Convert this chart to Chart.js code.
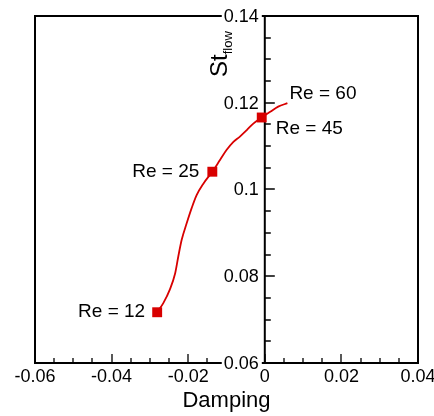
<!DOCTYPE html>
<html>
<head>
<meta charset="utf-8">
<script src="https://cdn.jsdelivr.net/npm/chart.js@4/dist/chart.umd.min.js"></script>
<style>
  html, body { margin: 0; padding: 0; background: #fff; }
  canvas { display: block; }
</style>
</head>
<body>
<canvas id="myChart" width="434" height="416"></canvas>
<script>
// curve St_flow vs damping
const curveX = [-0.0281, -0.0265, -0.0248, -0.0234, -0.0226, -0.0217, -0.0204, -0.0191, -0.0178, -0.0160, -0.0137,
                -0.0117, -0.0100, -0.0082, -0.0065, -0.0047, -0.0030, -0.0008, 0.0014, 0.0035, 0.0059]
const curveY = [0.0717, 0.0738, 0.0769, 0.0807, 0.0845, 0.0884, 0.0922, 0.0957, 0.0987, 0.1014, 0.1041,
                0.1068, 0.1091, 0.1110, 0.1122, 0.1137, 0.1152, 0.1166, 0.1179, 0.1191, 0.1199]

// computed Re cases (square markers)
const reX = [-0.0281, -0.0137, -0.0008]
const reY = [0.0717, 0.1041, 0.1166]
const reNames = ['Re = 12', 'Re = 25', 'Re = 45']
const endName = 'Re = 60'

const xTickValues = [-0.06, -0.04, -0.02, 0, 0.02, 0.04]
const xTickLabels = ['-0.06', '-0.04', '-0.02', '0', '0.02', '0.04']
const yTickValues = [0.06, 0.08, 0.1, 0.12, 0.14]
const yTickLabels = ['0.06', '0.08', '0.1', '0.12', '0.14']
const minorStep = 0.005

const FONT = "'Liberation Sans', Arial, sans-serif"
const RED = '#d80000'

// label placement around the marks: [dx, dy, align]
const labelPlace = [[-12, 0, 'right'], [-13, 0, 'right'], [14, 11, 'left']]
const endPlace = [2, -9, 'left']

const frameAxes = {
    id: 'frameAxes',
    beforeDatasetsDraw(chart) {
        const {ctx, chartArea: a, scales: {x, y}} = chart
        const x0 = x.getPixelForValue(0)
        ctx.save()
        ctx.strokeStyle = '#000'
        ctx.lineWidth = 2
        ctx.strokeRect(a.left, a.top, a.right - a.left, a.bottom - a.top)
        // vertical axis through damping = 0
        ctx.beginPath()
        ctx.moveTo(x0, a.top)
        ctx.lineTo(x0, a.bottom)
        ctx.stroke()

        // ticks
        ctx.lineWidth = 1.3
        ctx.beginPath()
        for (let v = -0.06; v <= 0.04 + 1e-9; v += minorStep) {
            const major = Math.abs(v / 0.02 - Math.round(v / 0.02)) < 1e-6
            const px = Math.round(x.getPixelForValue(v))
            ctx.moveTo(px, a.bottom)
            ctx.lineTo(px, a.bottom - (major ? 9 : 5))
        }
        for (let v = 0.06; v <= 0.14 + 1e-9; v += minorStep) {
            const major = Math.abs(v / 0.02 - Math.round(v / 0.02)) < 1e-6
            const py = Math.round(y.getPixelForValue(v))
            ctx.moveTo(x0, py)
            ctx.lineTo(x0 + (major ? 10 : 6), py)
        }
        ctx.stroke()

        // tick labels
        ctx.fillStyle = '#000'
        ctx.font = '18px ' + FONT
        ctx.textAlign = 'center'
        ctx.textBaseline = 'alphabetic'
        xTickValues.forEach((v, i) => {
            ctx.fillText(xTickLabels[i], x.getPixelForValue(v), 382)
        })
        ctx.textAlign = 'right'
        ctx.textBaseline = 'middle'
        yTickValues.forEach((v, i) => {
            const py = y.getPixelForValue(v)
            const w = ctx.measureText(yTickLabels[i]).width
            ctx.fillStyle = '#fff'
            ctx.fillRect(x0 - 6 - w - 2, py - 8, w + 5, 16)
            ctx.fillStyle = '#000'
            ctx.fillText(yTickLabels[i], x0 - 6, py + 1)
        })

        // axis titles
        ctx.textAlign = 'center'
        ctx.textBaseline = 'alphabetic'
        ctx.font = '22px ' + FONT
        ctx.fillText('Damping', (a.left + a.right) / 2, 407)

        ctx.translate(227, 77)
        ctx.rotate(-Math.PI / 2)
        ctx.textAlign = 'left'
        ctx.font = '24px ' + FONT
        ctx.fillText('St', 0, 0)
        const sw = ctx.measureText('St').width
        ctx.font = '13px ' + FONT
        ctx.fillText('flow', sw, 5)
        ctx.restore()
    },
    afterDatasetsDraw(chart) {
        const {ctx, scales: {x, y}} = chart
        ctx.save()
        ctx.fillStyle = '#000'
        ctx.font = '19px ' + FONT
        ctx.textBaseline = 'middle'
        reNames.forEach((name, i) => {
            const [dx, dy, align] = labelPlace[i]
            ctx.textAlign = align
            ctx.fillText(name, x.getPixelForValue(reX[i]) + dx, y.getPixelForValue(reY[i]) + dy)
        })
        const last = curveX.length - 1
        ctx.textAlign = endPlace[2]
        ctx.fillText(endName, x.getPixelForValue(curveX[last]) + endPlace[0],
            y.getPixelForValue(curveY[last]) + endPlace[1])
        ctx.restore()
    }
}

const config = {
    type: 'scatter',
    data: {
        datasets: [{
            data: curveX.map((v, i) => ({x: v, y: curveY[i]})),
            showLine: true,
            borderColor: RED,
            borderWidth: 1.8,
            pointRadius: 0,
            tension: 0.4,
            cubicInterpolationMode: 'monotone'
        }, {
            data: reX.map((v, i) => ({x: v, y: reY[i]})),
            showLine: false,
            pointStyle: 'rect',
            pointRadius: 7,
            backgroundColor: RED,
            borderColor: RED,
            borderWidth: 0
        }]
    },
    options: {
        responsive: false,
        animation: false,
        devicePixelRatio: 1,
        layout: {padding: {left: 35, top: 16, right: 16, bottom: 53}},
        plugins: {legend: {display: false}, tooltip: {enabled: false}},
        scales: {
            x: {type: 'linear', min: -0.06, max: 0.04, display: false},
            y: {type: 'linear', min: 0.06, max: 0.14, display: false}
        }
    },
    plugins: [frameAxes]
}

const grafico = new Chart(document.getElementById('myChart'), config)
</script>
</body>
</html>
